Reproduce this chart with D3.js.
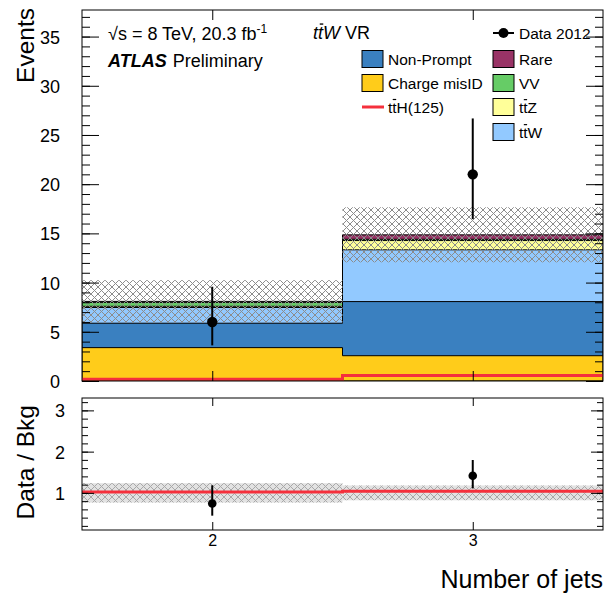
<!DOCTYPE html>
<html>
<head>
<meta charset="utf-8">
<script src="https://cdn.jsdelivr.net/npm/d3@7"></script>
<style>
  html, body { margin: 0; padding: 0; background: #fff; }
  svg text { font-family: "Liberation Sans", Arial, Helvetica, sans-serif; fill: #000; }
</style>
</head>
<body>
<svg id="chart" width="605" height="594"></svg>
<script>
// Jet multiplicity in the ttW validation region: stacked backgrounds, data and ratio.
const categories = [2, 3];
const chargeMisID = [3.39, 2.57];
const nonPrompt   = [2.48, 5.50];
const ttW         = [1.60, 5.26];
const ttZ         = [0.12, 0.94];
const vv          = [0.40, 0.13];
const rare        = [0.10, 0.45];
const ttH         = [0.18, 0.55];
const dataCounts  = [6, 21];
const dataErrUp   = [3.58, 5.68];
const dataErrDown = [2.38, 4.55];
const bkgUnc      = [2.15, 2.80];
const ratioUnc    = [0.235, 0.18];
const yTicksMain  = [0, 5, 10, 15, 20, 25, 30, 35];
const yTicksRatio = [1, 2, 3];
const xTickLabels = ["2", "3"];

const components = [
  { name: "Charge misID", values: chargeMisID, color: "#ffcc1a" },
  { name: "Non-Prompt",   values: nonPrompt,   color: "#3a80c0" },
  { name: "ttW",          values: ttW,         color: "#92c9ff" },
  { name: "ttZ",          values: ttZ,         color: "#ffff99" },
  { name: "VV",           values: vv,          color: "#66cc66" },
  { name: "Rare",         values: rare,        color: "#993366" }
];

const svg = d3.select("#chart");
const X0 = 82, X1 = 603;
const M = { top: 10, bottom: 381 };
const R = { top: 398, bottom: 530 };

const x = d3.scaleLinear().domain([1.5, 3.5]).range([X0, X1]);
const y = d3.scaleLinear().domain([0, 37.7]).range([M.bottom, M.top]);
const yr = d3.scaleLinear().domain([0.1, 3.3]).range([R.bottom, R.top]);

const edges = categories.map(c => [c - 0.5, c + 0.5]);

// hatch patterns for uncertainty bands
const defs = svg.append("defs");
function hatch(id, color, bg) {
  const p = defs.append("pattern").attr("id", id).attr("patternUnits", "userSpaceOnUse")
    .attr("width", 7).attr("height", 7);
  if (bg) p.append("rect").attr("width", 7).attr("height", 7).attr("fill", bg);
  p.append("path").attr("d", "M0,0 L7,7 M7,0 L0,7 M-1,6 L1,8 M6,-1 L8,1 M-1,1 L1,-1 M6,8 L8,6")
    .attr("stroke", color).attr("stroke-width", 1).attr("fill", "none");
}
hatch("hatchMain", "#8c8c8c", null);
hatch("hatchRatio", "#a8a8a8", "#e2e2e2");
defs.append("clipPath").attr("id", "clipMain").append("rect")
  .attr("x", X0).attr("y", M.top).attr("width", X1 - X0).attr("height", M.bottom - M.top);
defs.append("clipPath").attr("id", "clipRatio").append("rect")
  .attr("x", X0).attr("y", R.top).attr("width", X1 - X0).attr("height", R.bottom - R.top);

// cumulative stack
const cumulative = [];
let running = categories.map(() => 0);
components.forEach(c => {
  running = running.map((v, i) => v + c.values[i]);
  cumulative.push({ ...c, top: running.slice() });
});
const total = running.slice();

function stepPath(vals, scale, base) {
  let d = `M${x(edges[0][0])},${scale(base)}`;
  vals.forEach((v, i) => {
    d += ` L${x(edges[i][0])},${scale(v)} L${x(edges[i][1])},${scale(v)}`;
  });
  d += ` L${x(edges[vals.length - 1][1])},${scale(base)}`;
  return d;
}

const main = svg.append("g").attr("clip-path", "url(#clipMain)");
// draw from the largest cumulative down so lower components overlay
cumulative.slice().reverse().forEach(c => {
  main.append("path").attr("d", stepPath(c.top, y, 0) + " Z")
    .attr("fill", c.color).attr("stroke", "#000").attr("stroke-width", 1);
});

// background uncertainty band
main.selectAll("rect.band").data(categories).join("rect")
  .attr("x", (d, i) => x(edges[i][0])).attr("width", (d, i) => x(edges[i][1]) - x(edges[i][0]))
  .attr("y", (d, i) => y(total[i] + bkgUnc[i]))
  .attr("height", (d, i) => y(total[i] - bkgUnc[i]) - y(total[i] + bkgUnc[i]))
  .attr("fill", "url(#hatchMain)");

// ttH(125) signal line
let tthD = "";
ttH.forEach((v, i) => {
  tthD += (i === 0 ? "M" : " L") + `${x(edges[i][0])},${y(v)} L${x(edges[i][1])},${y(v)}`;
});
main.append("path").attr("d", tthD).attr("fill", "none").attr("stroke", "#f5303c").attr("stroke-width", 3);

// data points
const dataG = svg.append("g");
categories.forEach((c, i) => {
  dataG.append("line").attr("x1", x(c)).attr("x2", x(c))
    .attr("y1", y(dataCounts[i] + dataErrUp[i])).attr("y2", y(dataCounts[i] - dataErrDown[i]))
    .attr("stroke", "#000").attr("stroke-width", 2);
  dataG.append("circle").attr("cx", x(c)).attr("cy", y(dataCounts[i])).attr("r", 5.2).attr("fill", "#000");
});

// ratio panel
const ratio = svg.append("g").attr("clip-path", "url(#clipRatio)");
ratio.selectAll("rect.rband").data(categories).join("rect")
  .attr("x", (d, i) => x(edges[i][0])).attr("width", (d, i) => x(edges[i][1]) - x(edges[i][0]))
  .attr("y", (d, i) => yr(1 + ratioUnc[i]))
  .attr("height", (d, i) => yr(1 - ratioUnc[i]) - yr(1 + ratioUnc[i]))
  .attr("fill", "url(#hatchRatio)");
const sigRatio = total.map((t, i) => (t + ttH[i]) / t);
let rD = "";
sigRatio.forEach((v, i) => {
  rD += (i === 0 ? "M" : " L") + `${x(edges[i][0])},${yr(v)} L${x(edges[i][1])},${yr(v)}`;
});
ratio.append("path").attr("d", rD).attr("fill", "none").attr("stroke", "#f5303c").attr("stroke-width", 3);
categories.forEach((c, i) => {
  const r = dataCounts[i] / total[i];
  ratio.append("line").attr("x1", x(c)).attr("x2", x(c))
    .attr("y1", yr((dataCounts[i] + dataErrUp[i]) / total[i]))
    .attr("y2", yr((dataCounts[i] - dataErrDown[i]) / total[i]))
    .attr("stroke", "#000").attr("stroke-width", 2);
  ratio.append("circle").attr("cx", x(c)).attr("cy", yr(r)).attr("r", 4.3).attr("fill", "#000");
});

// axes: ticks drawn inside the frame on all four sides
function axisGroup(axis, tx, ty, size) {
  const g = svg.append("g").attr("transform", `translate(${tx},${ty})`).call(axis);
  g.select(".domain").remove();
  g.attr("font-size", size || 18).attr("font-family", "Liberation Sans, Arial, sans-serif");
  g.selectAll("line").attr("stroke", "#000").attr("stroke-width", 1);
  return g;
}
const minorMain = d3.range(0, 38, 1);
const minorRatio = d3.range(0.2, 3.3, 0.2).map(v => +v.toFixed(1));

// main y
const gyl = axisGroup(d3.axisLeft(y).tickValues(yTicksMain).tickSizeInner(-17).tickSizeOuter(0)
  .tickFormat(d3.format("d")).tickPadding(22), X0, 0);
gyl.selectAll("text").attr("dy", "0.36em");
axisGroup(d3.axisLeft(y).tickValues(minorMain).tickSize(-8).tickFormat(""), X0, 0);
axisGroup(d3.axisRight(y).tickValues(yTicksMain).tickSize(-17).tickFormat(""), X1, 0);
axisGroup(d3.axisRight(y).tickValues(minorMain).tickSize(-8).tickFormat(""), X1, 0);
// main x
axisGroup(d3.axisBottom(x).tickValues(categories).tickSize(-10).tickFormat(""), 0, M.bottom);
axisGroup(d3.axisTop(x).tickValues(categories).tickSize(-10).tickFormat(""), 0, M.top);

// ratio y
const gryl = axisGroup(d3.axisLeft(yr).tickValues(yTicksRatio).tickSizeInner(-12).tickSizeOuter(0)
  .tickFormat(d3.format("d")).tickPadding(17), X0, 0);
gryl.selectAll("text").attr("dy", "0.36em");
axisGroup(d3.axisLeft(yr).tickValues(minorRatio).tickSize(-6).tickFormat(""), X0, 0);
axisGroup(d3.axisRight(yr).tickValues(yTicksRatio).tickSize(-12).tickFormat(""), X1, 0);
axisGroup(d3.axisRight(yr).tickValues(minorRatio).tickSize(-6).tickFormat(""), X1, 0);
// ratio x
axisGroup(d3.axisBottom(x).tickValues(categories).tickSizeInner(-8).tickSizeOuter(0)
  .tickFormat((d, i) => xTickLabels[i]).tickPadding(5), 0, R.bottom, 16);
axisGroup(d3.axisTop(x).tickValues(categories).tickSize(-8).tickFormat(""), 0, R.top);

// frames
[[M.top, M.bottom], [R.top, R.bottom]].forEach(([t, b]) => {
  svg.append("rect").attr("x", X0).attr("y", t).attr("width", X1 - X0).attr("height", b - t)
    .attr("fill", "none").attr("stroke", "#000").attr("stroke-width", 1);
});

// axis titles
svg.append("text").attr("transform", "translate(34,8) rotate(-90)").attr("text-anchor", "end")
  .attr("font-size", 24.5).text("Events");
svg.append("text").attr("transform", "translate(34,405) rotate(-90)").attr("text-anchor", "end")
  .attr("font-size", 24.5).text("Data / Bkg");
svg.append("text").attr("x", X1).attr("y", 588).attr("text-anchor", "end")
  .attr("font-size", 25).text("Number of jets");

// labels
const lumi = svg.append("text").attr("x", 108).attr("y", 40).attr("font-size", 18);
lumi.append("tspan").text("√s = 8 TeV, 20.3 fb");
lumi.append("tspan").attr("font-size", 12).attr("dy", -7).text("-1");
const atl = svg.append("text").attr("x", 108).attr("y", 67).attr("font-size", 18);
atl.append("tspan").attr("font-weight", "bold").attr("font-style", "italic").text("ATLAS");
atl.append("tspan").attr("dx", 6).text("Preliminary");

// draws "tt̄X" style labels with a bar over the second t
function ttbarText(parent, xx, yy, size, suffix, italic, extra) {
  const t = parent.append("text").attr("x", xx).attr("y", yy).attr("font-size", size);
  t.append("tspan").attr("font-style", italic ? "italic" : "normal").text("tt" + suffix);
  if (extra) t.append("tspan").text(extra);
  const ext = t.node().getExtentOfChar(1);
  parent.append("line")
    .attr("x1", ext.x + ext.width * (italic ? 0.35 : 0.12)).attr("x2", ext.x + ext.width * (italic ? 1.05 : 0.88))
    .attr("y1", yy - size * 0.83).attr("y2", yy - size * 0.83)
    .attr("stroke", "#000").attr("stroke-width", size * 0.075);
  return t;
}
ttbarText(svg, 313, 39, 18, "W", true, " VR");

// legend
const leg = svg.append("g");
const boxW = 21, boxH = 17;
function legBox(xx, cy, color, label) {
  leg.append("rect").attr("x", xx).attr("y", cy - boxH / 2).attr("width", boxW).attr("height", boxH)
    .attr("fill", color).attr("stroke", "#000").attr("stroke-width", 1);
  if (label) leg.append("text").attr("x", xx + boxW + 5).attr("y", cy + 5.5).attr("font-size", 15.5).text(label);
}
const col1 = 362, col2 = 493;
const rows = [33, 59, 83, 107, 132];
legBox(col1, rows[1], components[1].color, "Non-Prompt");
legBox(col1, rows[2], components[0].color, "Charge misID");
leg.append("line").attr("x1", col1).attr("x2", col1 + boxW + 1).attr("y1", rows[3]).attr("y2", rows[3])
  .attr("stroke", "#f5303c").attr("stroke-width", 3);
leg.append("text").attr("x", col1 + boxW + 5).attr("y", rows[3] + 5.5).attr("font-size", 15.5).text("ttH(125)")
  .each(function () {
    const e = this.getExtentOfChar(1);
    leg.append("line").attr("x1", e.x + e.width * 0.1).attr("x2", e.x + e.width * 0.9)
      .attr("y1", rows[3] + 5.5 - 13).attr("y2", rows[3] + 5.5 - 13).attr("stroke", "#000").attr("stroke-width", 1.2);
  });
// data entry
leg.append("line").attr("x1", col2).attr("x2", col2 + boxW).attr("y1", rows[0]).attr("y2", rows[0])
  .attr("stroke", "#000").attr("stroke-width", 2);
leg.append("circle").attr("cx", col2 + boxW / 2).attr("cy", rows[0]).attr("r", 5).attr("fill", "#000");
leg.append("text").attr("x", col2 + boxW + 5).attr("y", rows[0] + 5.5).attr("font-size", 15.5).text("Data 2012");
legBox(col2, rows[1], components[5].color, "Rare");
legBox(col2, rows[2], components[4].color, "VV");
legBox(col2, rows[3], components[3].color, null);
ttbarText(leg, col2 + boxW + 5, rows[3] + 5.5, 15.5, "Z", false, null);
legBox(col2, rows[4], components[2].color, null);
ttbarText(leg, col2 + boxW + 5, rows[4] + 5.5, 15.5, "W", false, null);
</script>
</body>
</html>
